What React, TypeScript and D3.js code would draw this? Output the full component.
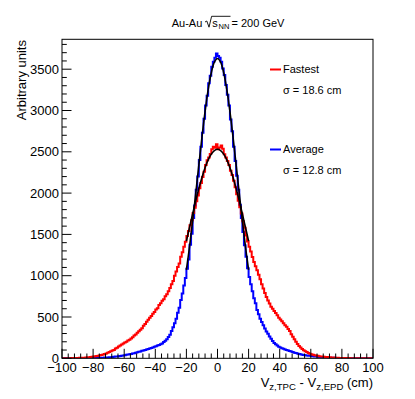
import React from 'react';
import * as d3 from 'd3';

const W = 415;
const H = 399;
const FRAME = { left: 62, right: 373, top: 39.3, bottom: 358.3 };

const X_MIN = -100;
const X_MAX = 100;
const BIN_WIDTH = 1;
const Y_MAX = 3862;

// Fastest (red) histogram, 1 cm bins from -100 to 100
const fastest = [
  0, 1, 1, 1, 2, 2, 3, 3, 4, 4,
  5, 6, 6, 8, 8, 10, 12, 14, 16, 20,
  21, 25, 28, 32, 36, 41, 46, 51, 59, 66,
  76, 85, 95, 102, 118, 127, 143, 154, 166, 179,
  190, 201, 214, 224, 241, 256, 276, 289, 310, 327,
  347, 365, 395, 416, 444, 466, 490, 511, 538, 560,
  590, 607, 645, 667, 696, 716, 750, 776, 812, 850,
  895, 937, 1000, 1050, 1105, 1148, 1228, 1283, 1352, 1410,
  1480, 1542, 1610, 1672, 1760, 1822, 1900, 1970, 2060, 2122,
  2195, 2258, 2340, 2398, 2430, 2472, 2530, 2560, 2548, 2590,
  2530, 2552, 2575, 2536, 2470, 2432, 2390, 2340, 2272, 2220,
  2150, 2072, 1985, 1908, 1830, 1752, 1660, 1582, 1488, 1414,
  1350, 1292, 1226, 1166, 1115, 1066, 1012, 958, 898, 844,
  790, 742, 700, 662, 625, 600, 572, 548, 520, 492,
  470, 448, 425, 400, 382, 354, 330, 292, 262, 230,
  200, 172, 150, 130, 112, 98, 85, 75, 64, 56,
  49, 43, 38, 34, 30, 26, 23, 21, 19, 17,
  16, 14, 13, 11, 10, 8, 7, 7, 5, 5,
  4, 4, 3, 3, 3, 2, 2, 2, 2, 1,
  1, 1, 1, 1, 1, 1, 0, 1, 0, 0,
];

// Average (blue) histogram, 1 cm bins from -100 to 100
const average = [
  0, 0, 0, 1, 0, 1, 1, 1, 1, 1,
  1, 2, 1, 2, 2, 3, 2, 3, 3, 4,
  3, 4, 5, 6, 5, 7, 7, 9, 9, 11,
  12, 14, 16, 18, 21, 23, 26, 28, 32, 35,
  38, 42, 45, 49, 53, 58, 62, 67, 72, 79,
  83, 90, 95, 102, 107, 114, 120, 125, 132, 139,
  146, 154, 160, 170, 180, 196, 212, 232, 258, 286,
  330, 375, 425, 480, 550, 612, 705, 785, 880, 972,
  1085, 1195, 1375, 1508, 1700, 1850, 2040, 2200, 2400, 2560,
  2730, 2900, 3060, 3180, 3330, 3420, 3530, 3590, 3640, 3690,
  3660, 3640, 3590, 3510, 3430, 3310, 3190, 3060, 2890, 2750,
  2560, 2390, 2210, 2040, 1860, 1700, 1530, 1370, 1230, 1090,
  985, 895, 812, 728, 665, 585, 532, 478, 440, 400,
  360, 324, 296, 264, 236, 208, 186, 170, 155, 141,
  132, 122, 116, 108, 101, 95, 88, 82, 76, 68,
  63, 57, 52, 48, 44, 40, 37, 35, 32, 30,
  28, 26, 23, 21, 19, 17, 15, 13, 12, 10,
  10, 8, 8, 6, 6, 6, 5, 5, 4, 4,
  3, 3, 3, 3, 2, 2, 2, 2, 2, 1,
  1, 1, 1, 1, 1, 1, 1, 0, 1, 0,
];

// Gaussian fit curves (black), sampled points
const fitX = [-20, -18, -16, -14, -12, -10, -8, -6, -4, -2, 0, 2, 4, 6, 8, 10, 12, 14, 16, 18, 20];
const fitFastest = [1419, 1584, 1748, 1906, 2055, 2190, 2307, 2402, 2472, 2515, 2530, 2515, 2472, 2402, 2307, 2190, 2055, 1906, 1748, 1584, 1419];
const fitAverage = [1071, 1350, 1662, 1996, 2339, 2675, 2986, 3252, 3457, 3586, 3630, 3586, 3457, 3252, 2986, 2675, 2339, 1996, 1662, 1350, 1071];

const xTickValues = [-100, -80, -60, -40, -20, 0, 20, 40, 60, 80, 100];
const yTickValues = [0, 500, 1000, 1500, 2000, 2500, 3000, 3500];

const legendLabels = ['Fastest', 'Average'];
const legendSigma = ['\u03c3 = 18.6 cm', '\u03c3 = 12.8 cm'];
const seriesColors = ['#ff0000', '#0000ff'];

const FONT = '"Liberation Sans", Arial, Helvetica, sans-serif';

export default function App() {
  const x = d3.scaleLinear().domain([X_MIN, X_MAX]).range([FRAME.left, FRAME.right]);
  const y = d3.scaleLinear().domain([0, Y_MAX]).range([FRAME.bottom, FRAME.top]);

  const histPath = (vals: number[]) => {
    const pts: [number, number][] = vals.map((v, i) => [X_MIN + i * BIN_WIDTH, v]);
    pts.push([X_MAX, vals[vals.length - 1]]);
    return d3
      .line<[number, number]>()
      .x((d) => x(d[0]))
      .y((d) => y(d[1]))
      .curve(d3.curveStepAfter)(pts) as string;
  };

  const fitPath = (vals: number[]) =>
    d3
      .line<number>()
      .x((_, i) => x(fitX[i]))
      .y((d) => y(d))
      .curve(d3.curveCatmullRom)(vals) as string;

  const yMinor = d3.range(0, Y_MAX, 100);
  const xMinor = d3.range(X_MIN, X_MAX + 0.001, 4);

  const fmt = (v: number) => (v < 0 ? '\u2212' + Math.abs(v) : String(v));

  return (
    <svg
      width={W}
      height={H}
      style={{ position: 'absolute', left: 0, top: 0, background: '#fff' }}
      fontFamily={FONT}
    >
      <rect x={0} y={0} width={W} height={H} fill="#fff" />
      <defs>
        <clipPath id="plotClip">
          <rect x={FRAME.left} y={FRAME.top} width={FRAME.right - FRAME.left} height={FRAME.bottom - FRAME.top} />
        </clipPath>
      </defs>

      {/* Title */}
      <g fontSize={11} fill="#000">
        <text x={171.7} y={26.5}>Au-Au</text>
        <path d="M205,22 L206.8,21 L209,27.2 L211.6,16.3 L230.5,16.3" fill="none" stroke="#000" strokeWidth={0.9} />
        <text x={212.3} y={26.5}>s</text>
        <text x={218.6} y={29} fontSize={7.5}>NN</text>
        <text x={231.5} y={26.5}>= 200 GeV</text>
      </g>

      {/* Histograms */}
      <g clipPath="url(#plotClip)" fill="none">
        <path d={histPath(average)} stroke={seriesColors[1]} strokeWidth={2} />
        <path d={histPath(fastest)} stroke={seriesColors[0]} strokeWidth={2} />
        <path d={fitPath(fitAverage)} stroke="#000" strokeWidth={1.6} />
        <path d={fitPath(fitFastest)} stroke="#000" strokeWidth={1.6} />
      </g>

      {/* Frame */}
      <rect
        x={FRAME.left}
        y={FRAME.top}
        width={FRAME.right - FRAME.left}
        height={FRAME.bottom - FRAME.top}
        fill="none"
        stroke="#000"
        strokeWidth={1}
      />

      {/* Axis ticks */}
      <g stroke="#000" strokeWidth={1}>
        {yMinor.map((v) => {
          const major = v % 500 === 0;
          return (
            <line key={'ym' + v} x1={FRAME.left} x2={FRAME.left + (major ? 9.5 : 4.8)} y1={y(v)} y2={y(v)} />
          );
        })}
        {xMinor.map((v) => {
          const major = Math.round(v) % 20 === 0;
          return (
            <line key={'xm' + v} x1={x(v)} x2={x(v)} y1={FRAME.bottom} y2={FRAME.bottom - (major ? 9.5 : 4.8)} />
          );
        })}
      </g>

      <g fontSize={13} fill="#000">
        {yTickValues.map((v) => (
          <text key={'yl' + v} x={59} y={y(v)} dy="0.36em" textAnchor="end">
            {fmt(v)}
          </text>
        ))}
        {xTickValues.map((v) => (
          <text key={'xl' + v} x={x(v)} y={372} textAnchor="middle">
            {fmt(v)}
          </text>
        ))}
      </g>

      {/* Axis titles */}
      <text x={373} y={387} textAnchor="end" fontSize={13} fill="#000">
        V<tspan fontSize={9.6} dy={3}>z,TPC</tspan>
        <tspan dy={-3}> - V</tspan>
        <tspan fontSize={9.6} dy={3}>z,EPD</tspan>
        <tspan dy={-3}> (cm)</tspan>
      </text>
      <text
        transform="translate(26,40) rotate(-90)"
        textAnchor="end"
        fontSize={13}
        fill="#000"
      >
        Arbitrary units
      </text>

      {/* Legend */}
      <g fontSize={11} fill="#000">
        {legendLabels.map((lab, i) => {
          const ly = i === 0 ? 69.5 : 149.5;
          return (
            <g key={lab}>
              <line x1={270} x2={281} y1={ly} y2={ly} stroke={seriesColors[i]} strokeWidth={2} />
              <text x={283} y={ly} dy="0.36em">{lab}</text>
              <text x={283} y={ly + 21} dy="0.36em">{legendSigma[i]}</text>
            </g>
          );
        })}
      </g>
    </svg>
  );
}
